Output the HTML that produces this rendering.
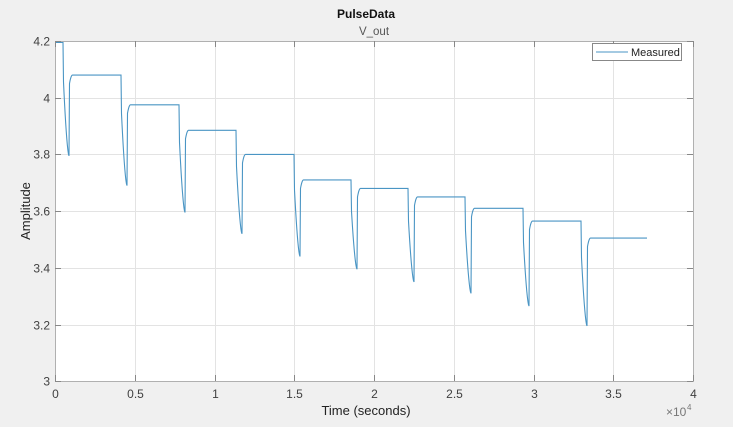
<!DOCTYPE html>
<html><head><meta charset="utf-8"><style>
body{margin:0;background:#f0f0f0;}
svg{display:block;font-family:"Liberation Sans",Arial,sans-serif;}
</style></head><body>
<svg id="s" width="733" height="427" viewBox="0 0 733 427">
<rect x="0" y="0" width="733" height="427" fill="#f0f0f0"/>
<rect x="55" y="41" width="638" height="340" fill="#fff"/>
<g id="grid" stroke="#e3e3e3" stroke-width="1"></g>
<path id="p" fill="none" stroke="#4a95c4" stroke-width="1.1"/>
<rect x="55.5" y="41.5" width="638" height="340" fill="none" stroke="#b0b0b0"/>
<g id="ticks" stroke="#888" stroke-width="1"></g>
<g id="lbl" font-size="12" fill="#404040"></g>
<text x="366" y="18" font-size="12" font-weight="bold" text-anchor="middle" fill="#111">PulseData</text>
<text x="374" y="35" font-size="11.5" text-anchor="middle" fill="#555">V_out</text>
<text x="366" y="415" font-size="13" text-anchor="middle" fill="#222">Time (seconds)</text>
<text transform="translate(30,211) rotate(-90)" font-size="13" text-anchor="middle" fill="#222">Amplitude</text>
<text x="666" y="416" font-size="12" fill="#777">×10</text>
<text x="687" y="410" font-size="8" fill="#777">4</text>
<rect x="592.5" y="43.5" width="89" height="17" fill="#fff" stroke="#888"/>
<line x1="596" y1="52" x2="628" y2="52" stroke="#4a95c4" stroke-width="1.1"/>
<text x="631" y="56" font-size="11" fill="#222">Measured</text>
</svg>
<script>
const X=v=>55+v*159.5, Y=v=>41+(4.2-v)*283.5;
const ns="http://www.w3.org/2000/svg";
const g=document.getElementById('grid'),t=document.getElementById('ticks'),l=document.getElementById('lbl');
function el(p,tag,a,txt){const e=document.createElementNS(ns,tag);for(const k in a)e.setAttribute(k,a[k]);if(txt)e.textContent=txt;p.appendChild(e);}
[0,0.5,1,1.5,2,2.5,3,3.5,4].forEach(v=>{const x=Math.round(X(v))+.5;
 el(g,'line',{x1:x,y1:41,x2:x,y2:381});el(t,'line',{x1:x,y1:381,x2:x,y2:375});el(t,'line',{x1:x,y1:41,x2:x,y2:47});
 el(l,'text',{x:x,y:398,'text-anchor':'middle'},String(v));});
[3,3.2,3.4,3.6,3.8,4,4.2].forEach(v=>{const y=Math.round(Y(v))+.5;
 el(g,'line',{x1:55,y1:y,x2:693,y2:y});el(t,'line',{x1:55,y1:y,x2:61,y2:y});el(t,'line',{x1:693,y1:y,x2:687,y2:y});
 el(l,'text',{x:50,y:y+4,'text-anchor':'end'},String(v));});
const lv=[4.195,4.08,3.975,3.885,3.80,3.71,3.68,3.65,3.61,3.565,3.505];
const ends=[63,121,179,236,294,351,408,465,523,581];
const mins=[3.795,3.69,3.595,3.52,3.44,3.395,3.35,3.31,3.265,3.195];
let d=`M55,${Y(lv[0])}`;
for(let i=0;i<10;i++){
 const e=ends[i],h=lv[i],m=mins[i],nx=lv[i+1];
 d+=` L${e},${Y(h)}`;
 const dropTop=h-(h-m)*0.35;
 d+=` L${e+0.5},${Y(dropTop)}`;
 for(let k=1;k<=10;k++){const f=k/10;d+=` L${e+0.5+f*5.5},${Y(dropTop-(dropTop-m)*(1-Math.pow(1-f,1.6)))}`;}
 const sx=e+6.5;
 d+=` L${sx},${Y(nx-0.03)}`;
 for(let k=1;k<=6;k++){const f=k/6;d+=` L${sx+f*3},${Y(nx-0.03*Math.pow(1-f,2))}`;}
}
d+=` L647,${Y(lv[10])}`;
document.getElementById('p').setAttribute('d',d);
</script>
</body></html>
